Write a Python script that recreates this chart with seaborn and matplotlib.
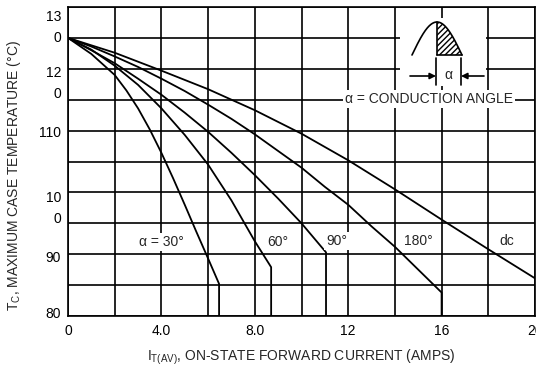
import numpy as np
import pandas as pd
import matplotlib
matplotlib.use("Agg")
import matplotlib.pyplot as plt
import seaborn as sns

# ---- data ----
I_30 = [0, 1, 2, 2.5, 3, 3.5, 4, 4.5, 5, 5.5, 6, 6.47, 6.47]
T_30 = [125, 122.4, 119.0, 116.5, 113.6, 110.2, 106.4, 102.3, 98.0, 93.6, 89.3, 85.2, 80]
I_60 = [0, 1, 2, 3, 4, 5, 6, 7, 8, 8.7, 8.7]
T_60 = [125, 123.1, 120.5, 117.4, 113.6, 109.3, 104.5, 98.7, 92.1, 87.9, 80]
I_90 = [0, 1, 2, 3, 4, 5, 6, 7, 8, 9, 10, 11.05, 11.05]
T_90 = [125, 123.0, 120.9, 118.4, 115.8, 112.9, 109.8, 106.4, 102.8, 99.0, 95.0, 90.3, 80]
I_180 = [0, 1, 2, 3, 4, 5, 6, 7, 8, 9, 10, 11, 12, 13, 14, 15, 16, 16]
T_180 = [125, 123.6, 122.0, 120.3, 118.4, 116.4, 114.2, 111.9, 109.4, 106.7,
         104.0, 100.9, 98.0, 94.5, 91.2, 87.5, 83.8, 80]
I_dc = [0, 2, 4, 6, 8, 10, 12, 14, 16, 18, 20]
T_dc = [125, 122.6, 119.7, 116.7, 113.3, 109.5, 105.2, 100.5, 95.6, 90.8, 86.1]

series_names = ["30", "60", "90", "180", "dc"]
curve_labels = ["\u03b1 = 30\u00b0", "60\u00b0", "90\u00b0", "180\u00b0", "dc"]
label_pos_I = [4.0, 9.0, 11.5, 15.0, 18.8]
label_pos_T = [92.0, 92.0, 92.2, 92.2, 92.2]

x_ticks = [0, 2, 4, 6, 8, 10, 12, 14, 16, 18, 20]
x_ticklabels = ["0", "", "4.0", "", "8.0", "", "12", "", "16", "", "20"]
y_grid = [80, 85, 90, 95, 100, 105, 110, 115, 120, 125, 130]
y_label_pos = [128.7, 125.3, 119.5, 116.1, 109.9, 99.3, 95.9, 89.7, 80.6]
y_label_txt = ["13", "0", "12", "0", "110", "10", "0", "90", "80"]

frames = []
for name, xs, ys in zip(series_names, [I_30, I_60, I_90, I_180, I_dc],
                        [T_30, T_60, T_90, T_180, T_dc]):
    frames.append(pd.DataFrame({"I": xs, "T": ys, "series": name}))
df = pd.concat(frames, ignore_index=True)

sns.set_style("white")
plt.rcParams["font.family"] = ["Liberation Sans Narrow", "Liberation Sans", "DejaVu Sans"]
plt.rcParams["mathtext.default"] = "regular"

fig = plt.figure(figsize=(5.36, 3.71), dpi=100)
ax = fig.add_axes([68 / 536, 1 - 316 / 371, (535 - 68) / 536, (316 - 7) / 371])

sns.lineplot(data=df, x="I", y="T", units="series", estimator=None, sort=False,
             color="black", linewidth=1.3, ax=ax, legend=False)

ax.set_xlim(0, 20)
ax.set_ylim(80, 130)
ax.set_xticks(x_ticks)
ax.set_xticklabels(x_ticklabels)
ax.set_yticks(y_grid)
ax.set_yticklabels([""] * len(y_grid))
ax.set_yticks(y_label_pos, y_label_txt, minor=True)
ax.tick_params(axis="both", which="both", length=0, labelsize=10, colors="black")
ax.tick_params(axis="x", pad=6)
ax.tick_params(axis="y", which="minor", pad=5)
ax.grid(True, which="major", color="black", linewidth=1.2)
ax.grid(False, which="minor")
ax.set_axisbelow(True)
for s in ax.spines.values():
    s.set_visible(True)
    s.set_color("black")
    s.set_linewidth(1.2)

ax.set_xlabel("$\\mathregular{I_{T(AV)}}$, ON-STATE FORWARD CURRENT (AMPS)", fontsize=10)
ax.xaxis.set_label_coords(0.5, -0.102)
ax.set_ylabel("$\\mathregular{T_C}$, MAXIMUM CASE TEMPERATURE (\u00b0C)", fontsize=10)
ax.yaxis.set_label_coords(-0.097, 0.455)

box = dict(facecolor="white", edgecolor="none", pad=1.5)
for txt, xi, yi in zip(curve_labels, label_pos_I, label_pos_T):
    ax.text(xi, yi, txt, ha="center", va="center", fontsize=10, bbox=box, zorder=4)

ax.text(15.46, 115.1, "\u03b1 = CONDUCTION ANGLE", ha="center", va="center",
        fontsize=10, bbox=box, zorder=4)

# inset icon (pixel-like coordinates inside a small white panel)
ins = fig.add_axes([400 / 536, 1 - 86 / 371, 86 / 536, 68 / 371])
ins.set_xlim(0, 86)
ins.set_ylim(68, 0)
ins.set_xticks([])
ins.set_yticks([])
for s in ins.spines.values():
    s.set_visible(False)
ins.set_facecolor("white")
t = np.linspace(0, np.pi, 200)
hx = 12 + 50 * t / np.pi
hy = 37 - 33 * np.sin(t)
ins.plot(hx, hy, color="black", lw=1.2)
mask = hx >= 37
ins.fill_between(hx[mask], hy[mask], 37, facecolor="white", edgecolor="black",
                 hatch="//////", linewidth=0)
ins.plot([37, 37], [4, 37], color="black", lw=1.2)
ins.plot([37, 62], [37, 37], color="black", lw=1.2)
ins.plot([36, 36], [40, 67], color="black", lw=1.2)
ins.plot([61, 61], [40, 67], color="black", lw=1.2)
ins.annotate("", xy=(36, 58), xytext=(10, 58),
             arrowprops=dict(arrowstyle="-|>", color="black", lw=1.2, mutation_scale=9,
                             shrinkA=0, shrinkB=0))
ins.annotate("", xy=(61, 58), xytext=(84, 58),
             arrowprops=dict(arrowstyle="-|>", color="black", lw=1.2, mutation_scale=9,
                             shrinkA=0, shrinkB=0))
ins.text(48.5, 57, "\u03b1", ha="center", va="center", fontsize=10)

fig.savefig("out.png", dpi=100)
